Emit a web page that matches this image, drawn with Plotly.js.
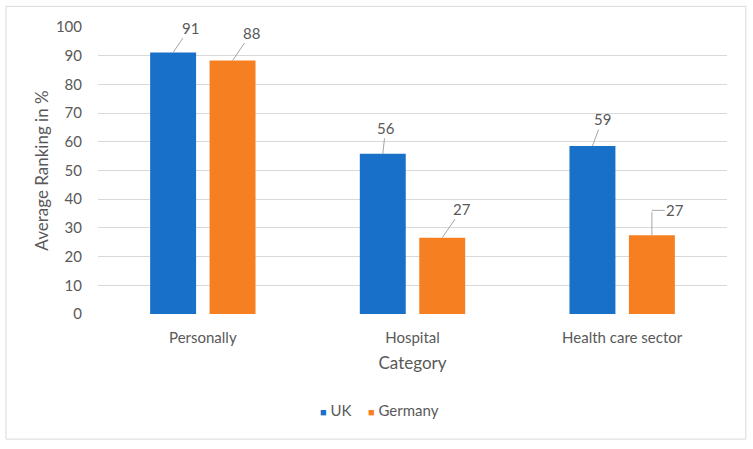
<!DOCTYPE html>
<html><head><meta charset="utf-8">
<script src="https://cdn.plot.ly/plotly-3.0.1.min.js"></script>
<style>html,body{margin:0;padding:0;background:#fff}#c{width:753px;height:449px}</style>
</head><body><div id="c"></div>
<script>
const categories = ["Personally", "Hospital", "Health care sector"];
const seriesNames = ["UK", "Germany"];
const ukValues = [91.1, 55.8, 58.5];
const germanyValues = [88.3, 26.6, 27.4];
const ukLabels = ["91", "56", "59"];
const germanyLabels = ["88", "27", "27"];
const yTicks = [0,10,20,30,40,50,60,70,80,90,100];

const blue = "#1870C8", orange = "#F67F21", grey = "#595959", lineGrey = "#a6a6a6";
const fontFam = "Lato, 'Open Sans', sans-serif";

const traces = [
  {type:"bar", name:seriesNames[0], x:categories, y:ukValues, marker:{color:blue}, hoverinfo:"none", showlegend:false},
  {type:"bar", name:seriesNames[1], x:categories, y:germanyValues, marker:{color:orange}, hoverinfo:"none", showlegend:false}
];

const lblFont = {size:15, color:grey, family:fontFam};
const ukOff = [[17,-25],[3,-26],[10,-27]];
const deOff = [[19,-28],[20,-29]];
const annotations = [];
categories.forEach((c,i)=>{
  annotations.push({x:c, y:ukValues[i], xshift:-29.75, text:ukLabels[i], showarrow:true, arrowhead:0, arrowwidth:1, arrowcolor:lineGrey, ax:ukOff[i][0], ay:ukOff[i][1], font:lblFont});
  if (i < 2) {
    annotations.push({x:c, y:germanyValues[i], xshift:29.75, text:germanyLabels[i], showarrow:true, arrowhead:0, arrowwidth:1, arrowcolor:lineGrey, ax:deOff[i][0], ay:deOff[i][1], font:lblFont});
  } else {
    // elbow leader line: vertical part, then horizontal part to the label
    annotations.push({x:c, y:germanyValues[i], xshift:29.75, text:"", showarrow:true, arrowhead:0, arrowwidth:1, arrowcolor:lineGrey, ax:0, ay:-25, standoff:0});
    annotations.push({x:c, y:germanyValues[i], xshift:29.75, yshift:25, text:germanyLabels[i], showarrow:true, arrowhead:0, arrowwidth:1, arrowcolor:lineGrey, ax:23.5, ay:0, font:lblFont});
  }
});
// legend entries
const legendColors = [blue, orange];
const legendX = [0.3776, 0.4857];
seriesNames.forEach((n,i)=>{
  annotations.push({xref:"paper", yref:"paper", x:legendX[i], y:-0.335, xanchor:"center", yanchor:"middle", showarrow:false,
    text:'<span style="color:'+legendColors[i]+';font-size:11px">■</span> '+n,
    font:{size:15, color:grey, family:fontFam}});
});

const layout = {
  width:753, height:449,
  margin:{l:98, r:26, t:27, b:134.5},
  paper_bgcolor:"#fff", plot_bgcolor:"#fff",
  barmode:"group", bargap:0.433, bargroupgap:0.227,
  font:{family:fontFam, color:grey, size:15},
  xaxis:{title:{text:"Category", font:{size:17, color:grey}, standoff:12}, showgrid:false, zeroline:false, showline:false,
    ticks:"outside", ticklen:10, tickcolor:"rgba(0,0,0,0)", tickfont:{size:15, color:grey}},
  yaxis:{title:{text:"Average Ranking in %", font:{size:17, color:grey}, standoff:2}, range:[0,100], tickvals:yTicks,
    showgrid:true, gridcolor:"#d9d9d9", gridwidth:1, zeroline:false, showline:false,
    ticks:"outside", ticklen:12, tickcolor:"rgba(0,0,0,0)", tickfont:{size:15, color:grey}},
  annotations:annotations,
  shapes:[{type:"rect", xref:"paper", yref:"paper", x0:-0.1463, x1:1.030, y0:-0.436, y1:1.072, line:{color:"#d9d9d9", width:1}, layer:"below"}],
  showlegend:false
};
Plotly.newPlot("c", traces, layout, {displayModeBar:false, staticPlot:true});
</script></body></html>
